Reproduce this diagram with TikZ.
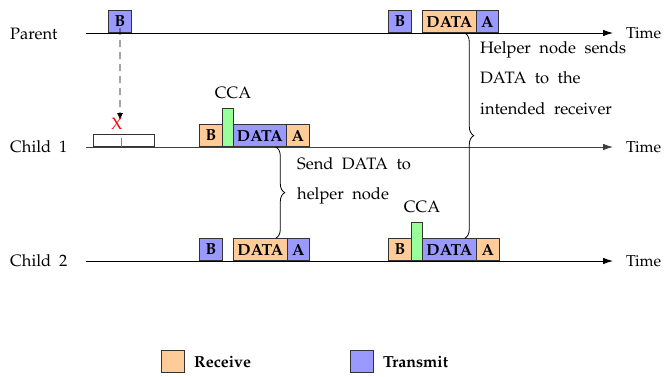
\documentclass[tikz,border=0pt]{standalone}
\usepackage[T1]{fontenc}
\usepackage{mathpazo}
\usetikzlibrary{arrows.meta,decorations.pathreplacing}

\definecolor{rxcol}{RGB}{255,204,153}
\definecolor{txcol}{RGB}{153,153,255}
\definecolor{ccacol}{RGB}{153,255,153}
\newcommand{\widespaces}[1]{\spaceskip=#1\relax}
\tikzset{
  slot/.style={draw=black!80, line width=0.8pt, minimum width=23pt, minimum height=22pt,
    inner sep=0pt, anchor=south west, font=\fontsize{16}{18}\selectfont\bfseries},
  rxslot/.style={slot, fill=rxcol},
  txslot/.style={slot, fill=txcol},
  ccabar/.style={draw=black!80, line width=0.8pt, fill=ccacol, minimum width=11pt,
    minimum height=38pt, inner sep=0pt, anchor=south west},
  timeline/.style={line width=0.8pt, -{Latex[length=10pt,width=6.5pt]}},
  timelabel/.style={anchor=west, inner sep=0pt, font=\fontsize{15.8}{18}\selectfont},
  helperbrace/.style={decorate, decoration={brace, amplitude=9pt}, line width=0.8pt},
  note/.style={align=left, inner sep=0pt, anchor=north west,
    font=\fontsize{16.5}{30.5}\selectfont\widespaces{8.5pt}}
}

\begin{document}
\begin{tikzpicture}[x=1pt, y=-1pt, font=\fontsize{16.5}{18}\selectfont\widespaces{8pt}]
        \useasboundingbox (0,0) rectangle (664,376);

        % Time lines
        \coordinate (p0) at (86,33);   \coordinate (pend) at (613,33);
        \coordinate (c10) at (86,147); \coordinate (c1end) at (613,147);
        \coordinate (c20) at (86,261); \coordinate (c2end) at (613,261);
        \draw[timeline] (p0) -- (pend);
        \draw[timeline, black!75] (c10) -- (c1end);
        \draw[timeline] (c20) -- (c2end);
        \node[anchor=west, inner sep=0pt] (plabel) at (10,34) {Parent};
        \node[anchor=west, inner sep=0pt] (c1label) at (10,147) {Child 1};
        \node[anchor=west, inner sep=0pt] (c2label) at (10,261) {Child 2};
        \node[timelabel] (ptime) at (626,33) {Time};
        \node[timelabel] (c1time) at (626,147) {Time};
        \node[timelabel] (c2time) at (626,261) {Time};

        % Parent
        \node[txslot] (pb1) at (108,33) {B};
        \node[txslot] (pb2) at (388,33) {B};
        \node[rxslot, minimum width=54pt] (pdata) at (422,33) {DATA};
        \node[txslot, minimum width=22pt] (pack) at (476,33) {A};

        % Child 1
        \node[draw=black!80, line width=0.8pt, fill=white, minimum width=61pt, minimum height=12pt,
          inner sep=0pt, anchor=south west] (c1idle) at (93,147) {};
        \draw[gray] (121,138) -- (121,147);
        \coordinate (lost) at (120,120);
        \draw[dash pattern=on 7pt off 5pt, line width=0.8pt, -{Latex[length=7pt,width=6pt]}]
          ([yshift=5pt]pb1.south) -- (lost);
        \node[text=red, inner sep=0pt] (lostx) at (117,124) {X};
        \node[rxslot] (c1b) at (199,147) {B};
        \node[ccabar] (c1cca) at (222,147) {};
        \node[txslot, minimum width=53pt] (c1data) at (233,147) {DATA};
        \node[rxslot] (c1ack) at (286,147) {A};
        \node (c1ccatxt) at (233,93) {CCA};

        % Child 2
        \node[txslot] (c2b) at (199,261) {B};
        \node[rxslot, minimum width=54pt] (c2data) at (233,261) {DATA};
        \node[txslot, minimum width=22pt] (c2ack) at (287,261) {A};
        \node[rxslot] (c2b2) at (388,261) {B};
        \node[ccabar] (c2cca) at (411,261) {};
        \node[txslot, minimum width=54pt] (c2data2) at (422,261) {DATA};
        \node[rxslot] (c2ack2) at (476,261) {A};
        \node (c2ccatxt) at (422,207) {CCA};

        % Braces and notes
        \draw[helperbrace] ([xshift=-11pt]c1data.south east) -- ([xshift=-12pt]c2data.north east);
        \draw[helperbrace] ([xshift=-12pt]pdata.south east) -- ([xshift=-12pt]c2data2.north east);
        \node[note] (sendtxt) at (297,157) {Send DATA to\\helper node};
        \node[note] (helpertxt) at (480,41) {Helper node sends\\DATA to the\\intended receiver};

        % Legend
        \node[rxslot] (legrx) at (161,373) {};
        \node[anchor=west, inner sep=0pt, font=\fontsize{16}{18}\selectfont\bfseries] (legrxtxt) at (194,362) {Receive};
        \node[txslot] (legtx) at (350,373) {};
        \node[anchor=west, inner sep=0pt, font=\fontsize{16}{18}\selectfont\bfseries] (legtxtxt) at (383,362) {Transmit};
\end{tikzpicture}
\end{document}
